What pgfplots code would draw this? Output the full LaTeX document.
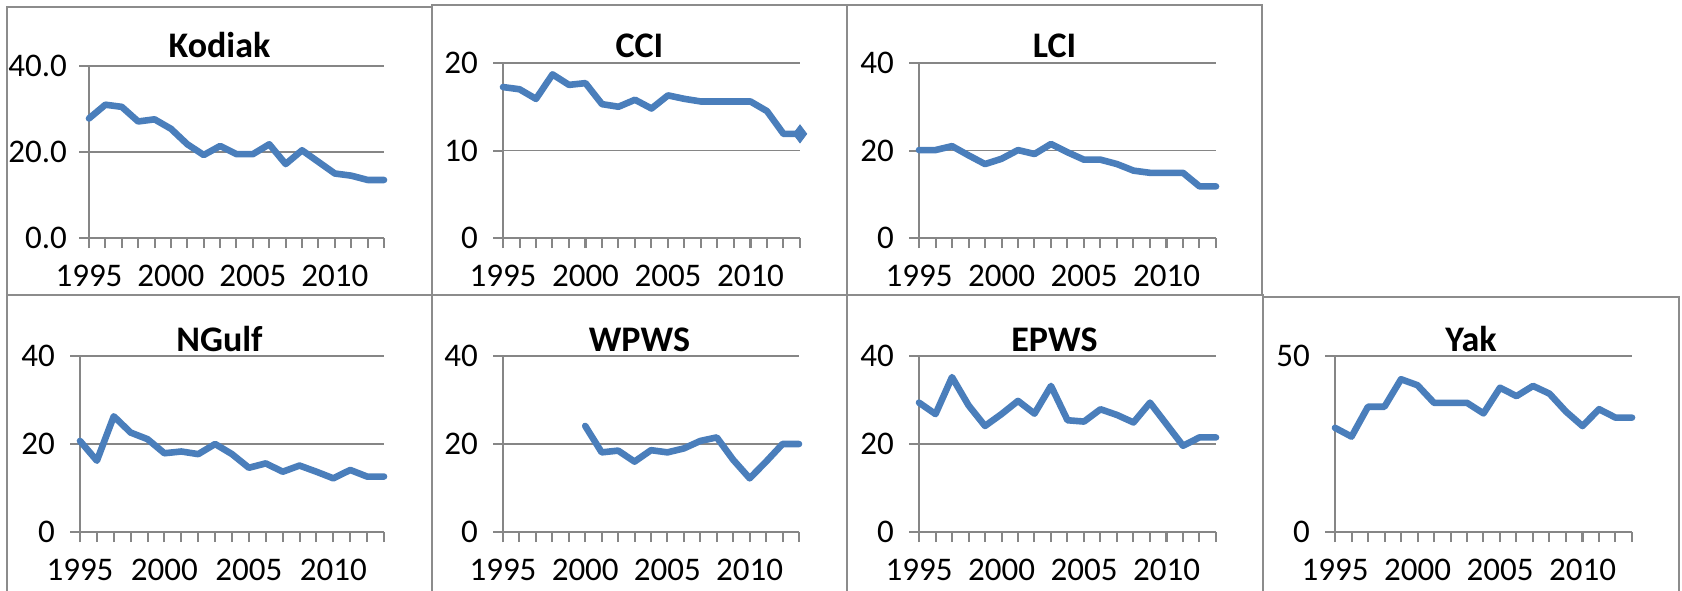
\documentclass[border=0pt]{standalone}
\usepackage{fontspec}
\setmainfont{Carlito}
\usepackage{pgfplots}
\pgfplotsset{compat=1.18}
\definecolor{xblue}{RGB}{74,126,187}
\definecolor{xgray}{RGB}{134,134,134}
\definecolor{pgray}{RGB}{140,140,140}
\pgfplotsset{
  panel/.style={
    scale only axis, anchor=south west,
    xmin=1995, xmax=2013, ymin=0,
    axis x line*=bottom, axis y line*=left,
    xtick={1995,2000,2005,2010},
    minor xtick={1995,...,2013},
    tick align=outside,
    major tick length=5pt, minor tick length=5pt,
    tick style={xgray, line width=1pt},
    ymajorgrids, major grid style={xgray, line width=0.9pt},
    axis line style={xgray, line width=1pt},
    /pgf/number format/assume math mode=true,
    /pgf/number format/1000 sep={},
    ticklabel style={font=\fontsize{16.5}{18}\selectfont},
    xticklabel style={yshift=-5pt},
    yticklabel style={xshift=-4pt},
    clip=false,
  },
  series/.style={xblue, line width=3.3pt, line join=round, line cap=round, mark=none},
}
\newcommand{\ttl}[1]{\fontsize{18}{21}\selectfont\bfseries #1}
\begin{document}
\begin{tikzpicture}
\useasboundingbox (0,0) rectangle (841pt,-295pt);
\clip (0,0) rectangle (841pt,-295pt);
\tikzset{pan/.style={draw=pgray, fill=white, line width=1.1pt}}
% ---------- Kodiak ----------
\draw[pan] (3.5pt,-3.5pt) rectangle (222pt,-160pt);
\node[anchor=base] at (109.75pt,-28.5pt) {\ttl{Kodiak}};
\begin{axis}[panel, at={(44.5pt,-119pt)}, width=147.5pt, height=86pt,
  ymax=40, ytick={0,20,40},
  yticklabel style={xshift=1.5pt, /pgf/number format/fixed, /pgf/number format/fixed zerofill, /pgf/number format/precision=1}]
\addplot[series] coordinates {(1995,27.8)(1996,31.0)(1997,30.5)(1998,27.1)(1999,27.6)(2000,25.4)(2001,21.8)(2002,19.3)(2003,21.4)(2004,19.5)(2005,19.5)(2006,21.8)(2007,17.2)(2008,20.4)(2009,17.7)(2010,15.0)(2011,14.5)(2012,13.5)(2013,13.5)};
\end{axis}
% ---------- CCI ----------
\draw[pan] (216pt,-2.5pt) rectangle (430pt,-160pt);
\node[anchor=base] at (319.75pt,-28.5pt) {\ttl{CCI}};
\begin{axis}[panel, at={(251.5pt,-119pt)}, width=148.5pt, height=87.5pt,
  ymax=20, ytick={0,10,20}]
\addplot[series] coordinates {(1995,17.25)(1996,17.0)(1997,15.9)(1998,18.7)(1999,17.5)(2000,17.7)(2001,15.3)(2002,15.0)(2003,15.8)(2004,14.8)(2005,16.3)(2006,15.9)(2007,15.6)(2008,15.6)(2009,15.6)(2010,15.6)(2011,14.5)(2012,11.9)(2013,11.9)};
\addplot[xblue, only marks, mark=diamond*, mark size=4.5pt] coordinates {(2013,11.9)};
\end{axis}
% ---------- LCI ----------
\draw[pan] (423.5pt,-2.5pt) rectangle (631pt,-148.5pt);
\node[anchor=base] at (527.25pt,-28.5pt) {\ttl{LCI}};
\begin{axis}[panel, at={(459.5pt,-119pt)}, width=148.5pt, height=87.5pt,
  ymax=40, ytick={0,20,40}]
\addplot[series] coordinates {(1995,20.1)(1996,20.1)(1997,21.0)(1998,18.9)(1999,16.9)(2000,18.1)(2001,20.1)(2002,19.2)(2003,21.5)(2004,19.6)(2005,17.9)(2006,17.9)(2007,16.9)(2008,15.4)(2009,14.9)(2010,14.9)(2011,14.9)(2012,11.8)(2013,11.8)};
\end{axis}
% ---------- NGulf ----------
\draw[pan] (3.5pt,-147.5pt) rectangle (222pt,-320pt);
\node[anchor=base] at (109.75pt,-175.5pt) {\ttl{NGulf}};
\begin{axis}[panel, at={(40pt,-266pt)}, width=152pt, height=88pt,
  ymax=40, ytick={0,20,40}]
\addplot[series] coordinates {(1995,20.7)(1996,16.2)(1997,26.3)(1998,22.6)(1999,21.1)(2000,17.9)(2001,18.3)(2002,17.7)(2003,20.0)(2004,17.7)(2005,14.6)(2006,15.6)(2007,13.7)(2008,15.1)(2009,13.7)(2010,12.2)(2011,14.1)(2012,12.6)(2013,12.6)};
\end{axis}
% ---------- WPWS ----------
\draw[pan] (216pt,-147.5pt) rectangle (430pt,-320pt);
\node[anchor=base] at (319.75pt,-175.5pt) {\ttl{WPWS}};
\begin{axis}[panel, at={(251.5pt,-266pt)}, width=148pt, height=88pt,
  ymax=40, ytick={0,20,40}]
\addplot[series] coordinates {(2000,24.1)(2001,18.1)(2002,18.5)(2003,16.0)(2004,18.6)(2005,18.1)(2006,19.0)(2007,20.7)(2008,21.5)(2009,16.4)(2010,12.2)(2011,16.0)(2012,20.0)(2013,20.0)};
\end{axis}
% ---------- EPWS ----------
\draw[pan] (423.5pt,-147.5pt) rectangle (631.5pt,-320pt);
\node[anchor=base] at (527.25pt,-175.5pt) {\ttl{EPWS}};
\begin{axis}[panel, at={(459.5pt,-266pt)}, width=148.5pt, height=88pt,
  ymax=40, ytick={0,20,40}]
\addplot[series] coordinates {(1995,29.4)(1996,26.8)(1997,35.2)(1998,28.8)(1999,24.1)(2000,26.8)(2001,29.8)(2002,26.9)(2003,33.2)(2004,25.4)(2005,25.1)(2006,27.9)(2007,26.6)(2008,24.9)(2009,29.4)(2010,24.5)(2011,19.6)(2012,21.5)(2013,21.5)};
\end{axis}
% ---------- Yak ----------
\draw[pan] (631.5pt,-148.5pt) rectangle (839.5pt,-320pt);
\node[anchor=base] at (735.5pt,-175.5pt) {\ttl{Yak}};
\begin{axis}[panel, at={(667.5pt,-266pt)}, width=148.5pt, height=88pt,
  ymax=50, ytick={0,50}]
\addplot[series] coordinates {(1995,29.6)(1996,27.1)(1997,35.6)(1998,35.6)(1999,43.4)(2000,41.7)(2001,36.7)(2002,36.7)(2003,36.7)(2004,33.7)(2005,41.0)(2006,38.6)(2007,41.5)(2008,39.3)(2009,34.2)(2010,30.1)(2011,34.9)(2012,32.5)(2013,32.5)};
\end{axis}
\end{tikzpicture}
\end{document}
